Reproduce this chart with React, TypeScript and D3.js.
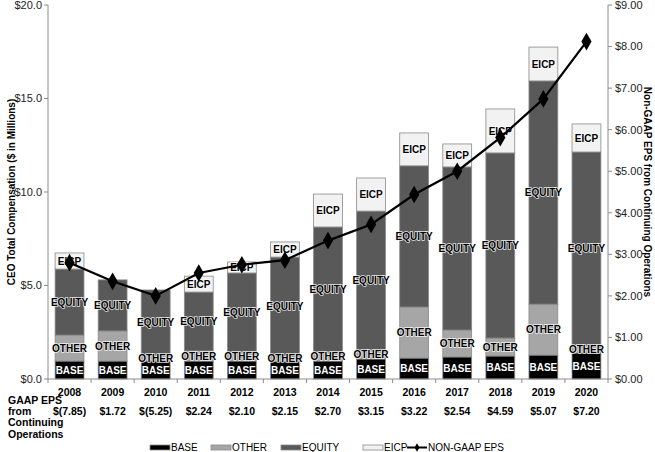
import * as d3 from "d3";

const years = ["2008", "2009", "2010", "2011", "2012", "2013", "2014", "2015", "2016", "2017", "2018", "2019", "2020"];
const gaapEps = ["$(7.85)", "$1.72", "$(5.25)", "$2.24", "$2.10", "$2.15", "$2.70", "$3.15", "$3.22", "$2.54", "$4.59", "$5.07", "$7.20"];

// compensation parts, $ millions
const base = [0.96, 0.96, 0.96, 0.96, 0.96, 0.93, 0.96, 1.07, 1.12, 1.18, 1.23, 1.28, 1.39];
const other = [1.39, 1.61, 0.32, 0.54, 0.48, 0.3, 0.48, 0.48, 2.73, 1.44, 0.96, 2.72, 0.43];
const equity = [3.53, 2.73, 3.48, 3.15, 4.23, 5.29, 6.69, 7.43, 7.55, 8.72, 9.9, 11.94, 10.32];
const eicp = [0.86, 0, 0, 0.85, 0.59, 0.81, 1.76, 1.77, 1.76, 1.23, 2.35, 1.81, 1.5];

const nonGaapEps = [2.8, 2.35, 2.0, 2.55, 2.75, 2.86, 3.33, 3.72, 4.44, 5.0, 5.81, 6.74, 8.12];

const leftTicks = [0, 5, 10, 15, 20];
const rightTicks = [0, 1, 2, 3, 4, 5, 6, 7, 8, 9];

const series = [
  { key: "BASE", values: base, fill: "#000000", text: "#ffffff" },
  { key: "OTHER", values: other, fill: "#a6a6a6", text: "#000000" },
  { key: "EQUITY", values: equity, fill: "#595959", text: "#000000" },
  { key: "EICP", values: eicp, fill: "#f2f2f2", text: "#000000" },
];

const font = "'Liberation Sans', Arial, sans-serif";

export default function App() {
  const w = 655;
  const h = 452;
  const left = 48;
  const right = 608;
  const top = 5;
  const bottom = 379;

  const x = d3.scaleBand().domain(years).range([left, right]).paddingInner(0.33).paddingOuter(0.165);
  const yL = d3.scaleLinear().domain([0, 20]).range([bottom, top]);
  const yR = d3.scaleLinear().domain([0, 9]).range([bottom, top]);

  const rows = years.map((yr, i) => {
    const r: any = { yr };
    series.forEach((s) => (r[s.key] = s.values[i]));
    return r;
  });
  const stacked = d3.stack().keys(series.map((s) => s.key))(rows);

  const line = d3
    .line<number>()
    .x((_, i) => (x(years[i]) as number) + x.bandwidth() / 2)
    .y((d) => yR(d));
  const diamond = d3.symbol().type(d3.symbolDiamond).size(90)() as string;

  const band = (right - left) / years.length;
  const axisColor = "#8c8c8c";

  // legend text x positions
  const legend = [
    { label: "BASE", fill: "#000000", x: 171 },
    { label: "OTHER", fill: "#a6a6a6", x: 232 },
    { label: "EQUITY", fill: "#595959", x: 302 },
    { label: "EICP", fill: "#f2f2f2", x: 384 },
  ];

  return (
    <svg width={w} height={h} style={{ position: "absolute", left: 0, top: 0, fontFamily: font }}>
      <rect width={w} height={h} fill="#fff" />

      {/* stacked bars */}
      {stacked.map((layer, si) => (
        <g key={layer.key}>
          {layer.map((d, i) =>
            d[1] - d[0] > 0 ? (
              <rect
                key={i}
                x={x(years[i])}
                y={yL(d[1])}
                width={x.bandwidth()}
                height={yL(d[0]) - yL(d[1])}
                fill={series[si].fill}
                stroke="#8a8a8a"
                strokeWidth={0.8}
              />
            ) : null
          )}
        </g>
      ))}

      {/* segment labels */}
      {stacked.map((layer, si) => (
        <g key={layer.key + "-lab"}>
          {layer.map((d, i) =>
            d[1] - d[0] > 0 ? (
              <text
                key={i}
                x={(x(years[i]) as number) + x.bandwidth() / 2}
                y={(yL(d[0]) + yL(d[1])) / 2}
                dy="0.36em"
                textAnchor="middle"
                fontSize={10}
                fontWeight="bold"
                fill={series[si].text}
                stroke={si === 0 ? "none" : "#ffffff"}
                strokeWidth={si === 0 ? 0 : 1.6}
                strokeOpacity={0.85}
                style={{ paintOrder: "stroke" }}
              >
                {series[si].key}
              </text>
            ) : null
          )}
        </g>
      ))}

      {/* axes */}
      <line x1={left} x2={left} y1={top} y2={bottom} stroke={axisColor} />
      <line x1={right} x2={right} y1={top} y2={bottom} stroke={axisColor} />
      <line x1={left} x2={right} y1={bottom} y2={bottom} stroke={axisColor} />
      {leftTicks.map((t) => (
        <g key={t}>
          <line x1={left - 4} x2={left} y1={yL(t)} y2={yL(t)} stroke={axisColor} />
          <text x={left - 6} y={yL(t)} dy="0.35em" textAnchor="end" fontSize={11} fill="#222">
            {`$${t.toFixed(1)}`}
          </text>
        </g>
      ))}
      {rightTicks.map((t) => (
        <g key={t}>
          <line x1={right} x2={right + 4} y1={yR(t)} y2={yR(t)} stroke={axisColor} />
          <text x={right + 7} y={yR(t)} dy="0.35em" textAnchor="start" fontSize={11} fill="#222">
            {`$${t.toFixed(2)}`}
          </text>
        </g>
      ))}
      {d3.range(years.length + 1).map((i) => (
        <line key={i} x1={left + i * band} x2={left + i * band} y1={bottom} y2={bottom + 4} stroke={axisColor} />
      ))}

      {/* line series */}
      <path d={line(nonGaapEps) as string} fill="none" stroke="#000" strokeWidth={2.2} />
      {nonGaapEps.map((v, i) => (
        <path
          key={i}
          d={diamond}
          transform={`translate(${(x(years[i]) as number) + x.bandwidth() / 2},${yR(v)})`}
          fill="#000"
        />
      ))}

      {/* category labels and GAAP EPS */}
      {years.map((yr, i) => (
        <g key={yr}>
          <text x={(x(yr) as number) + x.bandwidth() / 2} y={396} textAnchor="middle" fontSize={10.5} fontWeight="bold">
            {yr}
          </text>
          <text x={(x(yr) as number) + x.bandwidth() / 2} y={415} textAnchor="middle" fontSize={10.5} fontWeight="bold">
            {gaapEps[i]}
          </text>
        </g>
      ))}
      <g fontSize={10.5} fontWeight="bold">
        <text x={8} y={404}>GAAP EPS</text>
        <text x={8} y={415}>from</text>
        <text x={8} y={426}>Continuing</text>
        <text x={8} y={438}>Operations</text>
      </g>

      {/* axis titles */}
      <text transform={`translate(15,${(top + bottom) / 2}) rotate(-90)`} textAnchor="middle" fontSize={10} fontWeight="bold">
        CEO Total Compensation ($ in Millions)
      </text>
      <text transform={`translate(644,${(top + bottom) / 2}) rotate(90)`} textAnchor="middle" fontSize={10} fontWeight="bold">
        Non-GAAP EPS from Continuing Operations
      </text>

      {/* legend */}
      {legend.map((l) => (
        <g key={l.label}>
          <rect x={l.x - 21} y={445} width={20} height={5} fill={l.fill} stroke="#8a8a8a" strokeWidth={0.8} />
          <text x={l.x} y={451} fontSize={10}>
            {l.label}
          </text>
        </g>
      ))}
      <line x1={407} x2={427} y1={447.5} y2={447.5} stroke="#000" strokeWidth={2} />
      <path d={d3.symbol().type(d3.symbolDiamond).size(20)() as string} transform="translate(417,447.5)" fill="#000" />
      <text x={428} y={451} fontSize={10}>
        NON-GAAP EPS
      </text>
    </svg>
  );
}
